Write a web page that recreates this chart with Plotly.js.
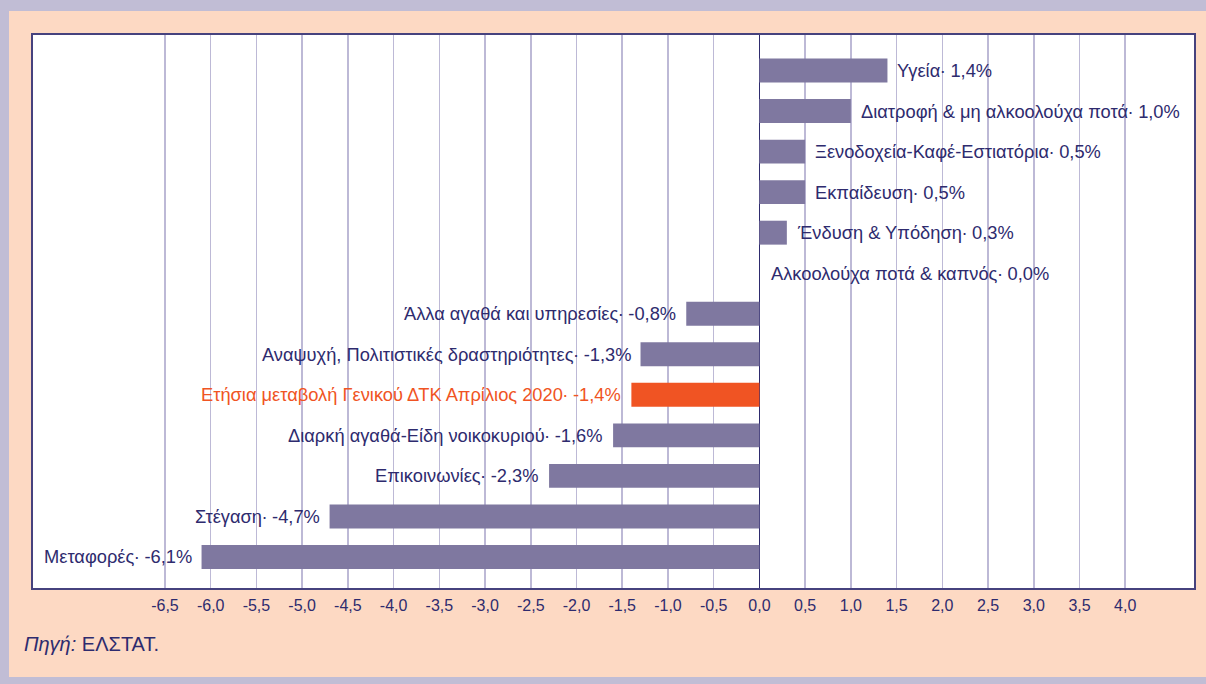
<!DOCTYPE html>
<html><head><meta charset="utf-8">
<script src="https://cdn.plot.ly/plotly-3.0.1.min.js"></script>
<style>
html,body{margin:0;padding:0;background:#C1BDD5;width:1206px;height:684px;overflow:hidden;}
#bg{position:absolute;left:9px;top:11px;width:1197px;height:666px;background:#FDD9C3;}
#chart{position:absolute;left:0;top:0;width:1206px;height:684px;}
</style></head>
<body><div id="bg"></div><div id="chart"></div>
<script>
const categories = [
  "Μεταφορές", "Στέγαση", "Επικοινωνίες", "Διαρκή αγαθά-Είδη νοικοκυριού",
  "Ετήσια μεταβολή Γενικού ΔΤΚ Απρίλιος 2020", "Αναψυχή, Πολιτιστικές δραστηριότητες",
  "Άλλα αγαθά και υπηρεσίες", "Αλκοολούχα ποτά & καπνός", "Ένδυση & Υπόδηση",
  "Εκπαίδευση", "Ξενοδοχεία-Καφέ-Εστιατόρια", "Διατροφή & μη αλκοολούχα ποτά", "Υγεία"
];
const values = [-6.1, -4.7, -2.3, -1.6, -1.4, -1.3, -0.8, 0.0, 0.3, 0.5, 0.5, 1.0, 1.4];
const valueLabels = ["-6,1%", "-4,7%", "-2,3%", "-1,6%", "-1,4%", "-1,3%", "-0,8%", "0,0%", "0,3%", "0,5%", "0,5%", "1,0%", "1,4%"];
const highlight = "Ετήσια μεταβολή Γενικού ΔΤΚ Απρίλιος 2020";
const tickValues = [-6.5,-6,-5.5,-5,-4.5,-4,-3.5,-3,-2.5,-2,-1.5,-1,-0.5,0,0.5,1,1.5,2,2.5,3,3.5,4];
const tickLabels = ["-6,5","-6,0","-5,5","-5,0","-4,5","-4,0","-3,5","-3,0","-2,5","-2,0","-1,5","-1,0","-0,5","0,0","0,5","1,0","1,5","2,0","2,5","3,0","3,5","4,0"];

const NAVY = "#2E2B6E", BAR = "#7F78A0", ORANGE = "#F05423";
const FONT = "Liberation Sans, Arial, sans-serif";
const idx = categories.map((c,i)=>i);
const colors = categories.map(c => c === highlight ? ORANGE : BAR);

const annotations = categories.map((c,i) => {
  const neg = values[i] < 0;
  return {
    x: values[i], y: i, xref: 'x', yref: 'y',
    text: c + "\u0387 " + valueLabels[i],
    showarrow: false,
    xanchor: neg ? 'right' : 'left',
    xshift: neg ? -8 : (values[i] === 0 ? 10 : 8),
    yshift: 0,
    font: {family: FONT, size: 18.3, color: c === highlight ? ORANGE : NAVY}
  };
});
annotations.push({
  xref: 'paper', yref: 'paper', x: -0.0095, y: 0, yshift: -56, xanchor: 'left', yanchor: 'middle',
  text: "<i>Πηγή:</i> ΕΛΣΤΑΤ.", showarrow: false,
  font: {family: FONT, size: 20, color: NAVY}
});

const trace = {
  type: 'bar', orientation: 'h', x: values, y: idx,
  marker: {color: colors}, width: 0.59, hoverinfo: 'none'
};

const layout = {
  width: 1206, height: 684,
  margin: {l: 33, r: 12, t: 35, b: 96},
  paper_bgcolor: 'rgba(0,0,0,0)', plot_bgcolor: '#FFFFFF',
  showlegend: false,
  xaxis: {
    range: [-7.943, 4.752], tickvals: tickValues, ticktext: tickLabels,
    showgrid: true, gridcolor: '#BDB9D6', gridwidth: 1.5,
    zeroline: true, zerolinecolor: NAVY, zerolinewidth: 1.5,
    showline: true, mirror: true, linecolor: '#46427E', linewidth: 2,
    ticks: '', ticklabelstandoff: 2, tickfont: {family: FONT, size: 16, color: NAVY},
    fixedrange: true
  },
  yaxis: {
    range: [-0.765, 12.876], showticklabels: false, showgrid: false, zeroline: false,
    showline: true, mirror: true, linecolor: '#46427E', linewidth: 2, ticks: '',
    fixedrange: true
  },
  annotations: annotations
};
Plotly.newPlot('chart', [trace], layout, {displayModeBar: false, staticPlot: true});
</script></body></html>
